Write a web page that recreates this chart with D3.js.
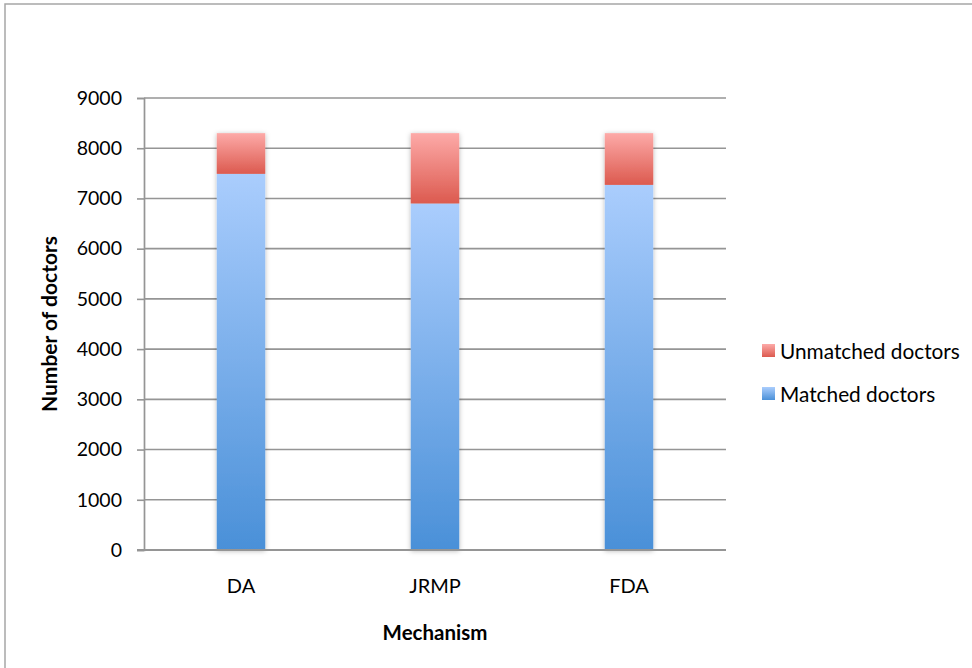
<!DOCTYPE html>
<html>
<head>
<meta charset="utf-8">
<script src="https://cdn.jsdelivr.net/npm/d3@7"></script>
<style>
  html, body { margin: 0; padding: 0; background: #fff; }
  svg { display: block; font-family: Lato, "Open Sans", sans-serif; }
</style>
</head>
<body>
<svg id="chart" width="972" height="668"></svg>
<script>
// Stacked bars: doctors matched / unmatched under each mechanism
const mechanisms = ["DA", "JRMP", "FDA"];
const matchedDoctors = [7490, 6900, 7270];
const unmatchedDoctors = [810, 1400, 1030];
const seriesNames = ["Matched doctors", "Unmatched doctors"];
const yTicks = [0, 1000, 2000, 3000, 4000, 5000, 6000, 7000, 8000, 9000];

const svg = d3.select("#chart");
const margin = { left: 144, right: 246, top: 98, bottom: 118 };
const W = 972, H = 668;

const x = d3.scaleBand().domain(mechanisms)
  .range([margin.left, W - margin.right]).paddingInner(0.75).paddingOuter(0.375);
const y = d3.scaleLinear().domain([0, 9000]).range([H - margin.bottom, margin.top]);

const defs = svg.append("defs");
function grad(id, top, bottom) {
  const g = defs.append("linearGradient").attr("id", id)
    .attr("x1", 0).attr("y1", 0).attr("x2", 0).attr("y2", 1);
  g.append("stop").attr("offset", "0%").attr("stop-color", top);
  g.append("stop").attr("offset", "100%").attr("stop-color", bottom);
}
grad("g-matched", "#aacdfd", "#4a90d8");
grad("g-unmatched", "#fdaaa8", "#dc5a4f");
const shadow = defs.append("filter").attr("id", "bar-shadow")
  .attr("x", "-30%").attr("y", "-10%").attr("width", "160%").attr("height", "120%");
shadow.append("feDropShadow").attr("dx", 0).attr("dy", 1).attr("stdDeviation", 2.5)
  .attr("flood-color", "#000").attr("flood-opacity", 0.28);

// chart frame
svg.append("rect").attr("x", 5).attr("y", 4).attr("width", 1000).attr("height", 1000)
  .attr("fill", "none").attr("stroke", "#a6a6a6").attr("stroke-width", 1.5);

// gridlines
svg.append("g").selectAll("line").data(yTicks.filter(d => d > 0)).join("line")
  .attr("x1", margin.left).attr("x2", W - margin.right)
  .attr("y1", d => y(d)).attr("y2", d => y(d))
  .attr("stroke", "#959595").attr("stroke-width", 1.6);

// y axis
const yAxis = svg.append("g").attr("transform", `translate(${margin.left},0)`)
  .call(d3.axisLeft(y).tickValues(yTicks).tickSize(7).tickPadding(15).tickFormat(d3.format("d")));
yAxis.select(".domain").attr("stroke", "#959595").attr("stroke-width", 1.7);
yAxis.selectAll(".tick line").attr("stroke", "#959595").attr("stroke-width", 1.6);
yAxis.selectAll("text").attr("font-size", 19.5).attr("fill", "#000").attr("font-family", "Lato");

// stacked bars
const rows = mechanisms.map((m, i) => ({ mech: m, matched: matchedDoctors[i], unmatched: unmatchedDoctors[i] }));
const stack = d3.stack().keys(["matched", "unmatched"])(rows);
const fills = { matched: "url(#g-matched)", unmatched: "url(#g-unmatched)" };
const bars = svg.append("g").attr("filter", "url(#bar-shadow)");
stack.forEach(layer => {
  bars.selectAll(null).data(layer).join("rect")
    .attr("x", d => x(d.data.mech))
    .attr("width", x.bandwidth())
    .attr("y", d => y(d[1]))
    .attr("height", d => y(d[0]) - y(d[1]))
    .attr("fill", fills[layer.key]);
});

// x axis line
svg.append("line").attr("x1", margin.left - 7).attr("x2", W - margin.right)
  .attr("y1", y(0)).attr("y2", y(0)).attr("stroke", "#959595").attr("stroke-width", 1.8);

// category labels
svg.append("g").selectAll("text").data(mechanisms).join("text")
  .attr("x", d => x(d) + x.bandwidth() / 2).attr("y", 593)
  .attr("text-anchor", "middle").attr("font-size", 20).text(d => d);

// axis titles
svg.append("text").attr("x", (margin.left + W - margin.right) / 2).attr("y", 640)
  .attr("text-anchor", "middle").attr("font-size", 20.5).attr("font-weight", "bold").text("Mechanism");
svg.append("text").attr("transform", `translate(57,${(y(0) + y(9000)) / 2}) rotate(-90)`)
  .attr("text-anchor", "middle").attr("font-size", 21).attr("font-weight", "bold").text("Number of doctors");

// legend
const legendItems = [
  { name: seriesNames[1], fill: fills.unmatched },
  { name: seriesNames[0], fill: fills.matched }
];
const lg = svg.append("g").selectAll("g").data(legendItems).join("g")
  .attr("transform", (d, i) => `translate(762,${344 + i * 43})`);
lg.append("rect").attr("width", 13).attr("height", 13).attr("fill", d => d.fill);
lg.append("text").attr("x", 18).attr("y", 15).attr("font-size", 20.8).text(d => d.name);
</script>
</body>
</html>
